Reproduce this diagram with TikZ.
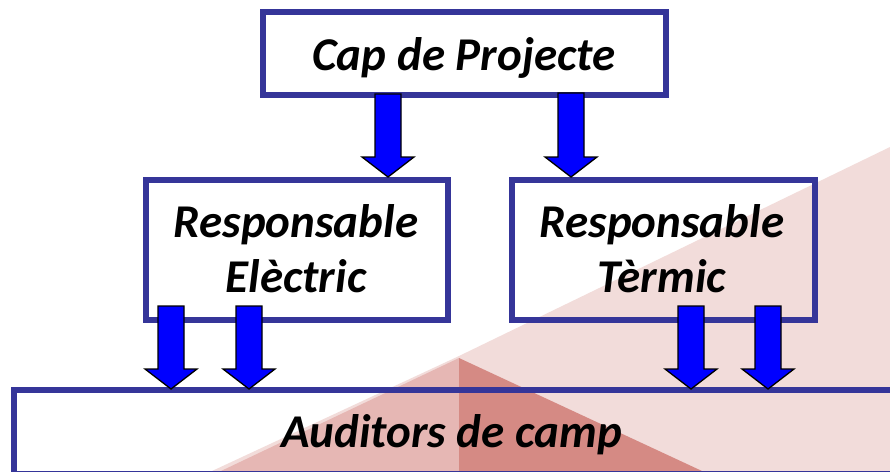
\documentclass[tikz,border=0pt]{standalone}
\usepackage{fontspec}
\setmainfont{Carlito}
\usetikzlibrary{calc}
\definecolor{boxblue}{RGB}{53,53,153}
\definecolor{arrblue}{RGB}{0,0,255}
\definecolor{pinklight}{RGB}{242,220,218}
\definecolor{pinkmid}{RGB}{230,183,180}
\definecolor{pinkdark}{RGB}{213,138,132}
\tikzset{
  orgbox/.style={draw=boxblue, line width=6pt, rectangle, inner sep=0pt},
  lbl/.style={font=\fontsize{47}{55}\selectfont\bfseries\itshape, inner sep=0pt, align=center},
  blockarrow/.style={fill=arrblue, draw=black, line width=1.3pt, line join=miter}
}
\newcommand\blockarr[2]{%
  \draw[blockarrow] let \p1=(#1), \p2=(#2) in
    (\x1-13pt,\y1) -- (\x1+13pt,\y1) -- (\x1+13pt,\y2+20pt) -- (\x1+26pt,\y2+20pt)
    -- (\x1,\y2) -- (\x1-26pt,\y2+20pt) -- (\x1-13pt,\y2+20pt) -- cycle;}
\begin{document}
\begin{tikzpicture}[x=1pt,y=-1pt]
\useasboundingbox (0,0) rectangle (890,471);
\clip (0,0) rectangle (890,471);
% background pyramid
\fill[pinklight] (890,147) -- (890,471) -- (212,471) -- (459,356) -- cycle;
\fill[pinkmid] (459,358) -- (459,471) -- (221,471) -- cycle;
\fill[pinkdark] (459,358) -- (702,471) -- (459,471) -- cycle;
% boxes
\node[orgbox, minimum width=403pt, minimum height=83pt] (cap) at (464.5,53.5) {};
\node[orgbox, minimum width=302pt, minimum height=140pt] (elec) at (297,250) {};
\node[orgbox, minimum width=303.5pt, minimum height=140pt] (term) at (663.25,250) {};
\node[orgbox, minimum width=891pt, minimum height=84pt] (aud) at (459.5,432) {};
% labels
\node[lbl, anchor=base] (capt) at (464,70) {Cap de Projecte};
\node[lbl, anchor=base] (elect) at (296,292) {Responsable\\Elèctric};
\node[lbl, anchor=base] (termt) at (662,292) {Responsable\\Tèrmic};
\node[lbl, anchor=base] (audt) at (451.5,447) {Auditors de camp};
% arrow end points
\coordinate (a1s) at (388,94);  \coordinate (a1t) at (388,177);
\coordinate (a2s) at (571,93);  \coordinate (a2t) at (571,177);
\coordinate (b1s) at (171,306); \coordinate (b1t) at (171,389);
\coordinate (b2s) at (249,306); \coordinate (b2t) at (249,389);
\coordinate (b3s) at (691,306); \coordinate (b3t) at (691,389);
\coordinate (b4s) at (768,306); \coordinate (b4t) at (768,389);
\blockarr{a1s}{a1t}
\blockarr{a2s}{a2t}
\blockarr{b1s}{b1t}
\blockarr{b2s}{b2t}
\blockarr{b3s}{b3t}
\blockarr{b4s}{b4t}
\end{tikzpicture}
\end{document}
